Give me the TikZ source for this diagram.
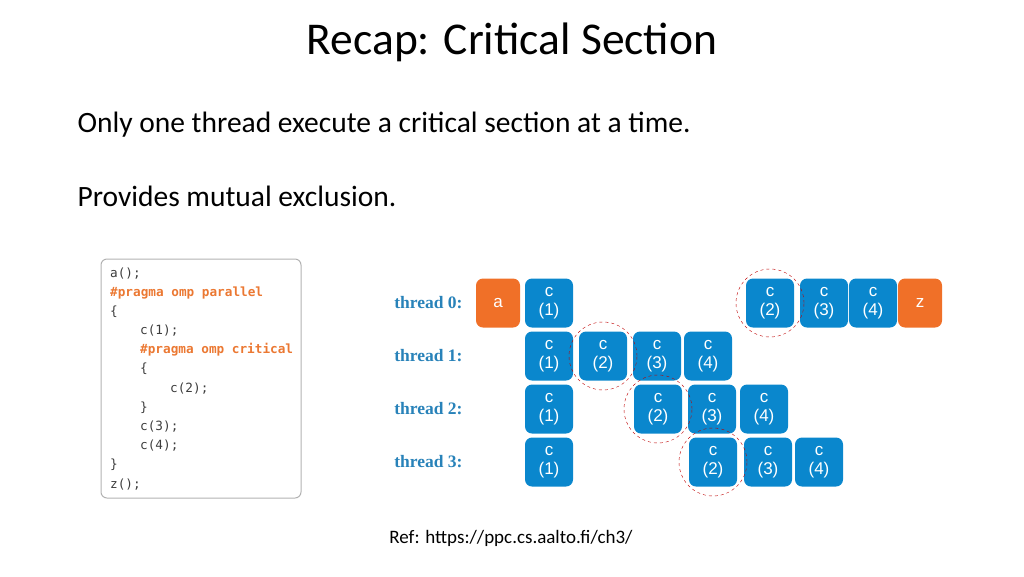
\documentclass[tikz,border=0pt]{standalone}
\usepackage{fontspec}
\setmainfont{Carlito}
\newfontfamily\codefont{DejaVu Sans Mono}
\newfontfamily\labfont{Liberation Serif}
\newfontfamily\boxfont{Liberation Sans}
\definecolor{tblue}{RGB}{10,135,205}
\definecolor{lblue}{RGB}{40,130,185}
\definecolor{torange}{RGB}{240,112,40}
\definecolor{codeor}{RGB}{235,120,50}
\definecolor{codegr}{RGB}{60,60,60}
\begin{document}
\begin{tikzpicture}[x=1pt,y=-1pt,
  cbox/.style={fill=tblue,rounded corners=7pt,minimum width=48pt,minimum height=49pt,inner sep=0pt,text=white,font=\boxfont\fontsize{17}{19}\selectfont,align=center},
  obox/.style={cbox,fill=torange,minimum width=44pt},
  lab/.style={text=lblue,font=\labfont\bfseries\fontsize{17.5}{20}\selectfont,anchor=east},
  crit/.style={draw=red!75!black,dashed,circle,minimum size=68pt,inner sep=0pt},
  cl/.style={anchor=west,font=\codefont\fontsize{12.7}{14}\selectfont,text=codegr,inner sep=0pt},
  co/.style={cl,text=codeor,font=\codefont\bfseries\fontsize{12.7}{14}\selectfont}]
\useasboundingbox (0,0) rectangle (1024,576);
\node (title) at (512,42) {\fontsize{45.5}{50}\selectfont Recap: Critical Section};
\node[anchor=west] (t1) at (74,125) {\fontsize{29.5}{34}\selectfont Only one thread execute a critical section at a time.};
\node[anchor=west] (t2) at (74,196) {\fontsize{29.5}{34}\selectfont Provides mutual exclusion.};
\node (ref) at (511,538) {\fontsize{19}{22}\selectfont Ref: https://ppc.cs.aalto.fi/ch3/};
% code
\draw[draw=gray!60,rounded corners=6pt,line width=1pt] (101,259) rectangle (301,498);
\node[cl] (l1) at (110,274) {a();};
\node[co] (l2) at (110,293) {\#pragma omp parallel};
\node[cl] (l3) at (110,312) {\{};
\node[cl] (l4) at (140,331) {c(1);};
\node[co] (l5) at (140,350) {\#pragma omp critical};
\node[cl] (l6) at (140,369) {\{};
\node[cl] (l7) at (170,389) {c(2);};
\node[cl] (l8) at (140,408) {\}};
\node[cl] (l9) at (140,427) {c(3);};
\node[cl] (l10) at (140,446) {c(4);};
\node[cl] (l11) at (110,465) {\}};
\node[cl] (l12) at (110,485) {z();};
% labels
\node[lab] (th0) at (466,303) {thread 0:};
\node[lab] (th1) at (466,356) {thread 1:};
\node[lab] (th2) at (466,409) {thread 2:};
\node[lab] (th3) at (466,462) {thread 3:};
% thread 0
\node[obox] (a) at (498,303) {a};
\node[cbox] (z0a) at (549,303) {c\\(1)};
\node[cbox] (z0b) at (770,303) {c\\(2)};
\node[cbox] (z0c) at (824,303) {c\\(3)};
\node[cbox] (z0d) at (873,303) {c\\(4)};
\node[obox] (z) at (920,303) {z};
% thread 1
\node[cbox] (z1a) at (549,356) {c\\(1)};
\node[cbox] (z1b) at (603,356) {c\\(2)};
\node[cbox] (z1c) at (657,356) {c\\(3)};
\node[cbox] (z1d) at (708,356) {c\\(4)};
% thread 2
\node[cbox] (z2a) at (549,409) {c\\(1)};
\node[cbox] (z2b) at (658,409) {c\\(2)};
\node[cbox] (z2c) at (712,409) {c\\(3)};
\node[cbox] (z2d) at (764,409) {c\\(4)};
% thread 3
\node[cbox] (z3a) at (549,462) {c\\(1)};
\node[cbox] (z3b) at (713,462) {c\\(2)};
\node[cbox] (z3c) at (768,462) {c\\(3)};
\node[cbox] (z3d) at (819,462) {c\\(4)};
% critical circles
\node[crit] (k0) at (z0b) {};
\node[crit] (k1) at (z1b) {};
\node[crit] (k2) at (z2b) {};
\node[crit] (k3) at (z3b) {};
\end{tikzpicture}
\end{document}
